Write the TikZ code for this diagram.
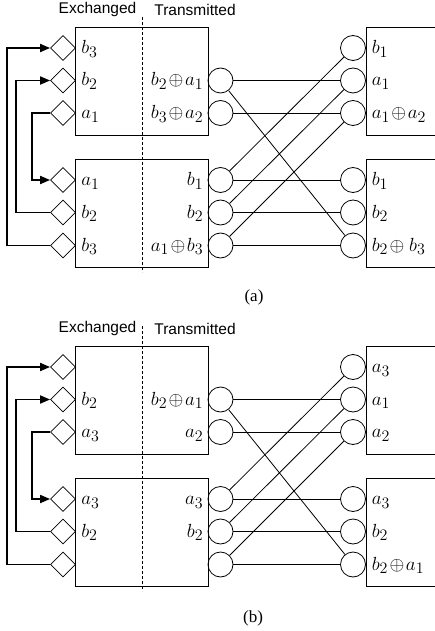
\RequirePackage{fix-cm}
\documentclass[tikz,border=0pt]{standalone}
\usepackage{fontspec}
\newfontfamily\headfont{Liberation Sans}
\newfontfamily\capfont{Liberation Serif}
\DeclareMathSizes{19}{19}{16}{12}
\usetikzlibrary{arrows.meta, positioning, shapes.geometric}
\newcommand{\xr}{\mkern1.5mu{\oplus}\mkern1.5mu}
\tikzset{
     %set default line width to 0.8pt
    every picture/.style={line width=0.8pt},
    buf-box/.style={
        draw,
        minimum width=133pt,
        minimum height=108pt,
        inner sep=0pt,
    },
    rbuf-box/.style={
        draw,
        minimum width=79pt,
        minimum height=108pt,
        inner sep=0pt,
    },
    xch-port/.style={
        draw,
        diamond,
        minimum size=25pt,
        inner sep=0pt,
    },
    link-port/.style={
        draw,
        circle,
        minimum size=25pt,
        inner sep=0pt,
    },
    sym-label/.style={
        inner sep=0pt,
        text height=14pt,
        text depth=3pt,
        font=\fontsize{19}{21}\selectfont,
    },
    head-label/.style={
        inner sep=0pt,
        font=\headfont\fontsize{15.5}{18}\selectfont,
    },
    cap-label/.style={
        inner sep=0pt,
        font=\capfont\fontsize{17}{19}\selectfont,
    },
    xch-arrow/.style={
        line width=1.8pt,
        -{Triangle[length=10pt,width=8pt]},
    },
    mid-line/.style={
        dash pattern=on 3pt off 2pt,
    }
}
\begin{document}
\begin{tikzpicture}[x=1pt,y=-1pt]
\useasboundingbox (0,0) rectangle (435,631);
\clip (0,0) rectangle (435,631);

%%%%%%%%%% (a) %%%%%%%%%%
%Buffers
\node[buf-box] (a-buf1) at (141.5,81) {};
\node[buf-box] (a-buf2) at (141.5,213) {};
\node[rbuf-box] (a-rbuf1) at (405.5,81) {};
\node[rbuf-box] (a-rbuf2) at (405.5,213) {};
%Dashed separator
\coordinate (a-mtop) at (142,17);
\coordinate (a-mbot) at (142,272);
\draw[mid-line] (a-mtop) -- (a-mbot);
% Text Node
\node[head-label] (a-hx) at (97.5,9.5) {Exchanged};
% Text Node
\node[head-label] (a-ht) at (195,9.5) {Transmitted};
%Exchange ports
\node[xch-port] (a-x1) at (63,48) {};
\node[xch-port] (a-x2) at (63,80.5) {};
\node[xch-port] (a-x3) at (63,113) {};
\node[xch-port] (a-x4) at (63,180) {};
\node[xch-port] (a-x5) at (63,212.5) {};
\node[xch-port] (a-x6) at (63,245.5) {};
%Sending ports
\node[link-port] (a-s2) at (220.5,80.5) {};
\node[link-port] (a-s3) at (220.5,113) {};
\node[link-port] (a-s4) at (220.5,180) {};
\node[link-port] (a-s5) at (220.5,212.5) {};
\node[link-port] (a-s6) at (220.5,245.5) {};
%Receiving ports
\node[link-port] (a-d1) at (353,48) {};
\node[link-port] (a-d2) at (353,80.5) {};
\node[link-port] (a-d3) at (353,113) {};
\node[link-port] (a-d4) at (353,180) {};
\node[link-port] (a-d5) at (353,212.5) {};
\node[link-port] (a-d6) at (353,245.5) {};
% Text Node
\node[sym-label, right=5pt of a-x1] (a-lx1) {$b_3$};
\node[sym-label, right=5pt of a-x2] (a-lx2) {$b_2$};
\node[sym-label, right=5pt of a-x3] (a-lx3) {$a_1$};
\node[sym-label, right=5pt of a-x4] (a-lx4) {$a_1$};
\node[sym-label, right=5pt of a-x5] (a-lx5) {$b_2$};
\node[sym-label, right=5pt of a-x6] (a-lx6) {$b_3$};
% Text Node
\node[sym-label, left=4pt of a-s2] (a-ls2) {$b_2\xr a_1$};
\node[sym-label, left=4pt of a-s3] (a-ls3) {$b_3\xr a_2$};
\node[sym-label, left=4pt of a-s4] (a-ls4) {$b_1$};
\node[sym-label, left=4pt of a-s5] (a-ls5) {$b_2$};
\node[sym-label, left=4pt of a-s6] (a-ls6) {$a_1\xr b_3$};
% Text Node
\node[sym-label, right=5.5pt of a-d1] (a-ld1) {$b_1$};
\node[sym-label, right=5.5pt of a-d2] (a-ld2) {$a_1$};
\node[sym-label, right=5.5pt of a-d3] (a-ld3) {$a_1\xr a_2$};
\node[sym-label, right=5.5pt of a-d4] (a-ld4) {$b_1$};
\node[sym-label, right=5.5pt of a-d5] (a-ld5) {$b_2$};
\node[sym-label, right=5.5pt of a-d6] (a-ld6) {$b_2\xr\,b_3$};
%Links
\draw (a-s2) -- (a-d2);
\draw (a-s2) -- (a-d6);
\draw (a-s3) -- (a-d3);
\draw (a-s4) -- (a-d1);
\draw (a-s4) -- (a-d4);
\draw (a-s5) -- (a-d2);
\draw (a-s5) -- (a-d5);
\draw (a-s6) -- (a-d3);
\draw (a-s6) -- (a-d6);
%Exchange arrows
\draw[xch-arrow] (a-x6.west) -- ++(-43,0) |- (a-x1.west);
\draw[xch-arrow] (a-x5.west) -- ++(-34,0) |- (a-x2.west);
\draw[xch-arrow] (a-x3.west) -- ++(-18,0) |- (a-x4.west);
% Text Node
\node[cap-label] (a-cap) at (254,297) {(a)};

%%%%%%%%%% (b) %%%%%%%%%%
%Buffers
\node[buf-box] (b-buf1) at (141.5,400) {};
\node[buf-box] (b-buf2) at (141.5,532) {};
\node[rbuf-box] (b-rbuf1) at (405.5,400) {};
\node[rbuf-box] (b-rbuf2) at (405.5,532) {};
%Dashed separator
\coordinate (b-mtop) at (142,326);
\coordinate (b-mbot) at (142,591);
\draw[mid-line] (b-mtop) -- (b-mbot);
% Text Node
\node[head-label] (b-hx) at (97.5,328.5) {Exchanged};
% Text Node
\node[head-label] (b-ht) at (195,328.5) {Transmitted};
%Exchange ports
\node[xch-port] (b-x1) at (63,367) {};
\node[xch-port] (b-x2) at (63,399.5) {};
\node[xch-port] (b-x3) at (63,432) {};
\node[xch-port] (b-x4) at (63,499) {};
\node[xch-port] (b-x5) at (63,531.5) {};
\node[xch-port] (b-x6) at (63,564.5) {};
%Sending ports
\node[link-port] (b-s2) at (220.5,399.5) {};
\node[link-port] (b-s3) at (220.5,432) {};
\node[link-port] (b-s4) at (220.5,499) {};
\node[link-port] (b-s5) at (220.5,531.5) {};
\node[link-port] (b-s6) at (220.5,564.5) {};
%Receiving ports
\node[link-port] (b-d1) at (353,367) {};
\node[link-port] (b-d2) at (353,399.5) {};
\node[link-port] (b-d3) at (353,432) {};
\node[link-port] (b-d4) at (353,499) {};
\node[link-port] (b-d5) at (353,531.5) {};
\node[link-port] (b-d6) at (353,564.5) {};
% Text Node
\node[sym-label, right=5pt of b-x2] (b-lx2) {$b_2$};
\node[sym-label, right=5pt of b-x3] (b-lx3) {$a_3$};
\node[sym-label, right=5pt of b-x4] (b-lx4) {$a_3$};
\node[sym-label, right=5pt of b-x5] (b-lx5) {$b_2$};
% Text Node
\node[sym-label, left=4pt of b-s2] (b-ls2) {$b_2\xr a_1$};
\node[sym-label, left=4pt of b-s3] (b-ls3) {$a_2$};
\node[sym-label, left=4pt of b-s4] (b-ls4) {$a_3$};
\node[sym-label, left=4pt of b-s5] (b-ls5) {$b_2$};
% Text Node
\node[sym-label, right=5.5pt of b-d1] (b-ld1) {$a_3$};
\node[sym-label, right=5.5pt of b-d2] (b-ld2) {$a_1$};
\node[sym-label, right=5.5pt of b-d3] (b-ld3) {$a_2$};
\node[sym-label, right=5.5pt of b-d4] (b-ld4) {$a_3$};
\node[sym-label, right=5.5pt of b-d5] (b-ld5) {$b_2$};
\node[sym-label, right=5.5pt of b-d6] (b-ld6) {$b_2\xr a_1$};
%Links
\draw (b-s2) -- (b-d2);
\draw (b-s2) -- (b-d6);
\draw (b-s3) -- (b-d3);
\draw (b-s4) -- (b-d1);
\draw (b-s4) -- (b-d4);
\draw (b-s5) -- (b-d2);
\draw (b-s5) -- (b-d5);
\draw (b-s6) -- (b-d3);
\draw (b-s6) -- (b-d6);
%Exchange arrows
\draw[xch-arrow] (b-x6.west) -- ++(-43,0) |- (b-x1.west);
\draw[xch-arrow] (b-x5.west) -- ++(-34,0) |- (b-x2.west);
\draw[xch-arrow] (b-x3.west) -- ++(-18,0) |- (b-x4.west);
% Text Node
\node[cap-label] (b-cap) at (253,618) {(b)};
\end{tikzpicture}
\end{document}
